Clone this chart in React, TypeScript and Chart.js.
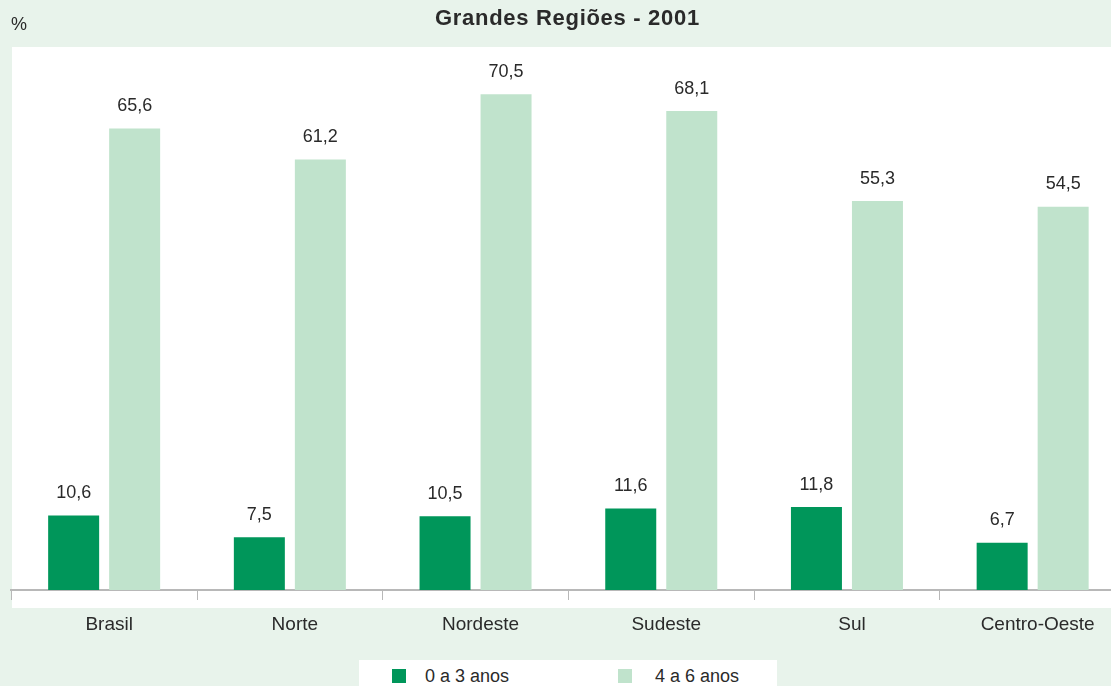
import React, { useEffect, useRef } from "react";
import { Chart, registerables } from "chart.js";
Chart.register(...registerables);

const categories = ["Brasil", "Norte", "Nordeste", "Sudeste", "Sul", "Centro-Oeste"];
const age0to3 = [10.6, 7.5, 10.5, 11.6, 11.8, 6.7];
const age4to6 = [65.6, 61.2, 70.5, 68.1, 55.3, 54.5];
const seriesLabels = ["0 a 3 anos", "4 a 6 anos"];
const titleText = "Grandes Regiões - 2001";
const unitText = "%";

const DARK = "#00965a";
const LIGHT = "#c0e3cc";
const BG = "#e8f3eb";
const TEXT = "#2a2a2a";
const FONT = "'Liberation Sans', Arial, sans-serif";

const bgPlugin = {
  id: "bgPanel",
  beforeDraw(chart: any) {
    const ctx = chart.ctx;
    ctx.save();
    ctx.fillStyle = BG;
    ctx.fillRect(0, 0, chart.width, chart.height);
    ctx.fillStyle = "#ffffff";
    ctx.fillRect(12, 47, chart.width - 12, 608 - 47);
    ctx.restore();
  },
};

const valueLabels = {
  id: "valueLabels",
  afterDatasetsDraw(chart: any) {
    const ctx = chart.ctx;
    ctx.save();
    ctx.font = `18px ${FONT}`;
    ctx.fillStyle = TEXT;
    ctx.textAlign = "center";
    ctx.textBaseline = "alphabetic";
    chart.data.datasets.forEach((ds: any, i: number) => {
      const meta = chart.getDatasetMeta(i);
      meta.data.forEach((bar: any, j: number) => {
        const v = ds.data[j] as number;
        ctx.fillText(v.toFixed(1).replace(".", ","), bar.x, bar.y - 17.5);
      });
    });
    ctx.restore();
  },
};

export default function App() {
  const ref = useRef<HTMLCanvasElement | null>(null);
  useEffect(() => {
    if (!ref.current) return;
    const chart = new Chart(ref.current, {
      type: "bar",
      data: {
        labels: categories,
        datasets: [
          { label: seriesLabels[0], data: age0to3, backgroundColor: DARK, categoryPercentage: 0.657, barPercentage: 0.836 },
          { label: seriesLabels[1], data: age4to6, backgroundColor: LIGHT, categoryPercentage: 0.657, barPercentage: 0.836 },
        ],
      },
      options: {
        animation: false,
        responsive: false,
        devicePixelRatio: 1,
        layout: { padding: { top: 47, left: 11.3, right: 14.5, bottom: 37.2 } },
        plugins: { legend: { display: false }, title: { display: false }, tooltip: { enabled: false } },
        scales: {
          y: { display: false, min: 0, max: 77.2 },
          x: {
            offset: true,
            grid: { offset: true, drawOnChartArea: false, drawTicks: true, tickLength: 10, color: "#b8b8b8", lineWidth: 1 },
            border: { display: true, color: "#b8b8b8", width: 2 },
            ticks: { font: { family: FONT, size: 19 }, color: TEXT, padding: 13, labelOffset: 5, maxRotation: 0, autoSkip: false },
          },
        },
      },
      plugins: [bgPlugin, valueLabels],
    });
    return () => chart.destroy();
  }, []);

  return (
    <div style={{ position: "fixed", left: 0, top: 0, width: 1111, height: 686, overflow: "hidden", background: BG, fontFamily: FONT, color: TEXT }}>
      <canvas ref={ref} width={1140} height={686} style={{ position: "absolute", left: 0, top: 0, width: 1140, height: 686 }} />
      <div style={{ position: "absolute", left: 11, top: 15, fontSize: 18, lineHeight: "18px" }}>{unitText}</div>
      <div style={{ position: "absolute", left: 435, top: 7, fontSize: 22, lineHeight: "22px", fontWeight: "bold", letterSpacing: "0.7px", whiteSpace: "nowrap" }}>{titleText}</div>
      <div style={{ position: "absolute", left: 359, top: 660, width: 418, height: 40, background: "#ffffff" }}>
        <div style={{ position: "absolute", left: 33, top: 9, width: 14, height: 14, background: DARK }} />
        <div style={{ position: "absolute", left: 66, top: 7, fontSize: 18, lineHeight: "18px", whiteSpace: "nowrap" }}>{seriesLabels[0]}</div>
        <div style={{ position: "absolute", left: 259, top: 9, width: 14, height: 14, background: LIGHT }} />
        <div style={{ position: "absolute", left: 296, top: 7, fontSize: 18, lineHeight: "18px", whiteSpace: "nowrap" }}>{seriesLabels[1]}</div>
      </div>
    </div>
  );
}
